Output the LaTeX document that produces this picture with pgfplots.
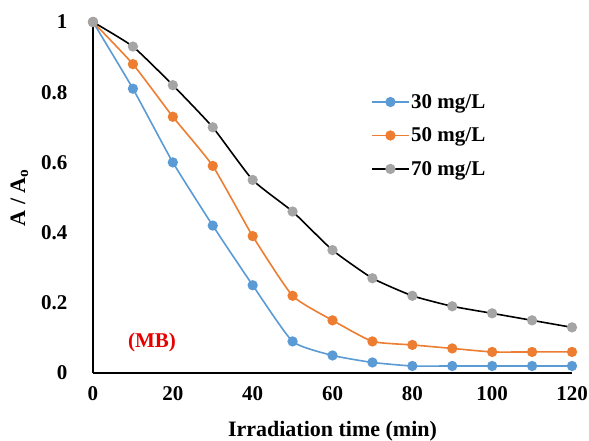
\documentclass[border=0pt]{standalone}
\usepackage{fontspec}
\setmainfont{Liberation Serif}
\usepackage{pgfplots}
\pgfplotsset{compat=1.18}
\usetikzlibrary{calc}
\definecolor{sblue}{RGB}{91,155,213}
\definecolor{sorange}{RGB}{237,125,49}
\definecolor{sgray}{RGB}{165,165,165}
\definecolor{mbred}{RGB}{230,0,0}
\begin{document}
\begin{tikzpicture}
\begin{axis}[
  scale only axis,
  width=479pt, height=351pt,
  xmin=0, xmax=120, ymin=0, ymax=1,
  xtick={0,20,...,120},
  ytick={0,0.2,...,1},
  axis x line=bottom, axis y line=left,
  axis line style={-, line width=2pt, black},
  major tick length=0pt,
  /pgf/number format/assume math mode=true,
  /pgf/number format/fixed,
  ticklabel style={font=\fontsize{21}{25}\selectfont\bfseries},
  xticklabel style={yshift=-10pt},
  yticklabel style={xshift=-22pt},
  xlabel={Irradiation time (min)},
  ylabel={A / A\textsubscript{o}},
  label style={font=\fontsize{22}{26}\selectfont\bfseries},
  xlabel style={yshift=-14pt},
  ylabel style={yshift=6pt},
  clip=false,
  legend cell align=left,
  legend style={draw=none, fill=none, at={(rel axis cs:0.575,0.806)}, anchor=north west,
    font=\fontsize{21}{25}\selectfont\bfseries, row sep=14pt},
  legend image code/.code={\draw[mark repeat=2,mark phase=2] plot coordinates {(0pt,0pt)(18pt,0pt)(36pt,0pt)};},
]
\addplot[color=sblue, line width=1.6pt, smooth, tension=0.3, mark=*, mark size=4.3pt, mark options={fill=sblue, draw=sblue}]
  coordinates {(0,1)(10,0.81)(20,0.60)(30,0.42)(40,0.25)(50,0.09)(60,0.05)(70,0.03)(80,0.02)(90,0.02)(100,0.02)(110,0.02)(120,0.02)};
\addlegendentry{30 mg/L}
\addplot[color=sorange, line width=1.6pt, smooth, tension=0.3, mark=*, mark size=4.3pt, mark options={fill=sorange, draw=sorange}]
  coordinates {(0,1)(10,0.88)(20,0.73)(30,0.59)(40,0.39)(50,0.22)(60,0.15)(70,0.09)(80,0.08)(90,0.07)(100,0.06)(110,0.06)(120,0.06)};
\addlegendentry{50 mg/L}
\addplot[color=black, line width=1.6pt, smooth, tension=0.3, mark=*, mark size=4.3pt, mark options={fill=sgray, draw=sgray}]
  coordinates {(0,1)(10,0.93)(20,0.82)(30,0.70)(40,0.55)(50,0.46)(60,0.35)(70,0.27)(80,0.22)(90,0.19)(100,0.17)(110,0.15)(120,0.13)};
\addlegendentry{70 mg/L}
\node[text=mbred, font=\fontsize{21}{25}\selectfont\bfseries] at (axis cs:14.8,0.088) {(MB)};
\end{axis}
\pgfresetboundingbox
\path[use as bounding box] ($(current axis.south west)+(-93pt,-68pt)$) rectangle ($(current axis.north east)+(17pt,22pt)$);
\end{tikzpicture}
\end{document}
